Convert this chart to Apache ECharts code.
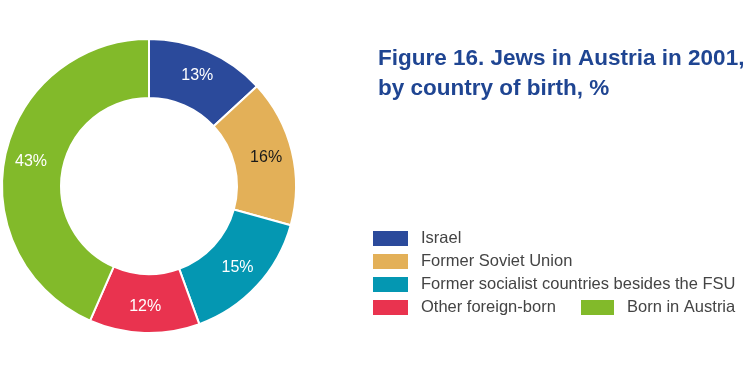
<!DOCTYPE html>
<html><head><meta charset="utf-8">
<script src="https://cdn.jsdelivr.net/npm/echarts@6/dist/echarts.min.js"></script>
<style>html,body{margin:0;padding:0;background:#fff}#c{width:750px;height:375px}</style>
</head><body><div id="c"></div>
<script>
const categories = ["Israel", "Former Soviet Union", "Former socialist countries besides the FSU", "Other foreign-born", "Born in Austria"];
const values = [13, 16, 15, 12, 43];
const colors = ["#2b4a9b", "#e3b058", "#0497b2", "#e9334f", "#82ba2a"];
const labelColors = ["#ffffff", "#1a1a1a", "#ffffff", "#ffffff", "#ffffff"];

const chart = echarts.init(document.getElementById('c'), null, {renderer: 'canvas'});
const legendText = {color: '#444', fontSize: 16.5, lineHeight: 17, fontFamily: 'Liberation Sans, Arial, sans-serif', padding: [0, 0, 0, 7]};
chart.setOption({
  animation: false,
  title: {
    text: 'Figure 16. Jews in Austria in 2001,\nby country of birth, %',
    left: 378, top: 44, padding: 0,
    textStyle: {color: '#1f4592', fontSize: 22.5, fontWeight: 'bold', fontFamily: 'Liberation Sans, Arial, sans-serif', lineHeight: 30}
  },
  legend: [{
    data: categories.slice(0, 4),
    orient: 'vertical', left: 371, top: 229, padding: 0,
    itemWidth: 37, itemHeight: 17, itemGap: 4,
    icon: 'rect', selectedMode: false,
    textStyle: legendText
  }, {
    data: categories.slice(4),
    orient: 'vertical', left: 579, top: 298, padding: 0,
    itemWidth: 35, itemHeight: 17,
    icon: 'rect', selectedMode: false,
    textStyle: legendText
  }],
  series: [{
    type: 'pie',
    center: [149, 186],
    radius: [88, 147],
    startAngle: 90,
    clockwise: true,
    itemStyle: {borderColor: '#fff', borderWidth: 2},
    label: {
      show: true, position: 'inside',
      formatter: '{c}%',
      fontSize: 16, fontFamily: 'Liberation Sans, Arial, sans-serif'
    },
    labelLine: {show: false},
    emphasis: {disabled: true},
    data: categories.map((n, i) => ({
      name: n, value: values[i],
      itemStyle: {color: colors[i]},
      label: {color: labelColors[i]}
    }))
  }]
});
</script></body></html>
